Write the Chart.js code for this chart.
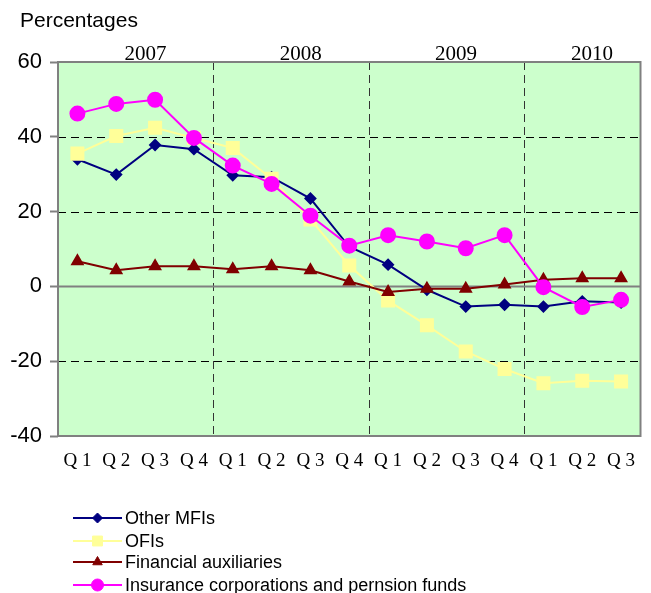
<!DOCTYPE html>
<html>
<head>
<meta charset="utf-8">
<script src="https://cdn.jsdelivr.net/npm/chart.js@4.4.1/dist/chart.umd.min.js"></script>
<style>
  html, body { margin:0; padding:0; background:#fff; }
  #wrap { width:651px; height:593px; position:relative; }
</style>
</head>
<body>
<div id="wrap"><canvas id="canvasG1" width="651" height="593"></canvas></div>
<script>
// 데이터
var quarters = ['Q 1','Q 2','Q 3','Q 4','Q 1','Q 2','Q 3','Q 4','Q 1','Q 2','Q 3','Q 4','Q 1','Q 2','Q 3'];
var years = ['2007','2008','2009','2010'];
var yearFirst = [0, 4, 8, 12];
var yearLast = [3, 7, 11, 14];

var otherMFIs = [34.0, 29.9, 37.8, 36.7, 29.7, 29.2, 23.5, 10.6, 5.8, -0.9, -5.4, -4.9, -5.4, -4.0, -4.3];
var ofis = [35.5, 40.2, 42.4, 39.7, 37.0, 28.8, 17.9, 5.6, -3.8, -10.4, -17.4, -22.1, -25.9, -25.2, -25.4];
var finAux = [6.7, 4.3, 5.4, 5.4, 4.6, 5.4, 4.3, 1.3, -1.5, -0.6, -0.6, 0.5, 1.8, 2.2, 2.2];
var insurance = [46.2, 48.8, 49.9, 39.7, 32.3, 27.4, 18.9, 10.9, 13.7, 12.0, 10.2, 13.7, -0.2, -5.5, -3.6];

var yTicks = [60, 40, 20, 0, -20, -40];

//배경, 그리드, 연도 라벨 플러그인
var bgPlugin = {
  id: 'bgPlugin',
  beforeDatasetsDraw: function(chart){
    var ctx = chart.ctx, a = chart.chartArea;
    var xs = chart.scales.x, ys = chart.scales.y;
    ctx.save();
    ctx.fillStyle = '#CCFFCC';
    ctx.fillRect(a.left, a.top, a.right - a.left, a.bottom - a.top);

    // 가로 점선
    ctx.strokeStyle = '#000000';
    ctx.lineWidth = 1;
    ctx.setLineDash([8, 5]);
    yTicks.forEach(function(v){
      if(v === 0 || v === 60 || v === -40) return;
      var y = Math.round(ys.getPixelForValue(v)) + 0.5;
      ctx.beginPath(); ctx.moveTo(a.left, y); ctx.lineTo(a.right, y); ctx.stroke();
    });
    // 세로 점선 (연도 구분)
    ctx.strokeStyle = '#333333';
    for(var i = 0; i < yearLast.length - 1; i++){
      var x = Math.round(xs.getPixelForValue(yearLast[i] + 0.5)) + 0.5;
      ctx.beginPath(); ctx.moveTo(x, a.top); ctx.lineTo(x, a.bottom); ctx.stroke();
    }
    ctx.setLineDash([]);
    // 0 라인
    ctx.strokeStyle = '#808080';
    ctx.lineWidth = 2;
    var y0 = ys.getPixelForValue(0);
    ctx.beginPath(); ctx.moveTo(a.left, y0); ctx.lineTo(a.right, y0); ctx.stroke();
    // 테두리
    ctx.lineWidth = 2;
    ctx.strokeRect(a.left, a.top, a.right - a.left, a.bottom - a.top);
    ctx.restore();
  },
  afterDraw: function(chart){
    var ctx = chart.ctx, a = chart.chartArea, xs = chart.scales.x;
    ctx.save();
    ctx.fillStyle = '#000';
    ctx.font = '21px "Liberation Serif", "Times New Roman", serif';
    ctx.textAlign = 'center';
    ctx.textBaseline = 'alphabetic';
    for(var i = 0; i < years.length; i++){
      var c = (yearFirst[i] + yearLast[i]) / 2 + 0.25;
      ctx.fillText(years[i], xs.getPixelForValue(c), a.top - 2);
    }
    // 타이틀
    ctx.textAlign = 'left';
    ctx.font = '21px "Liberation Sans", Arial, sans-serif';
    ctx.fillText('Percentages', 20, 27);

    // 범례
    var lx = 73, ly = [518, 541, 562, 585];
    chart.data.datasets.forEach(function(ds, k){
      var y = ly[k];
      ctx.strokeStyle = ds.borderColor;
      ctx.lineWidth = 2;
      ctx.beginPath(); ctx.moveTo(lx, y); ctx.lineTo(lx + 49, y); ctx.stroke();
      ctx.fillStyle = ds.pointBackgroundColor;
      ctx.strokeStyle = ds.pointBorderColor;
      ctx.lineWidth = 1;
      Chart.helpers.drawPoint(ctx, {pointStyle: ds.pointStyle, rotation: 0, borderWidth: 1, radius: ds.legendRadius}, lx + 24.5, y);
      ctx.fillStyle = '#000';
      ctx.font = '18px "Liberation Sans", Arial, sans-serif';
      ctx.textBaseline = 'middle';
      ctx.fillText(ds.label, lx + 52, y + 1);
    });
    ctx.restore();
  }
};

function G1_INIT(){
  var ctx = document.getElementById('canvasG1').getContext('2d');
  window.myLineG1 = new Chart(ctx, {
    type: 'line',
    data: {
      labels: quarters,
      datasets: [
        { label: 'Other MFIs', data: otherMFIs, borderColor: '#000080', backgroundColor: '#000080',
          pointBackgroundColor: '#000080', pointBorderColor: '#000080', pointStyle: 'rectRot',
          pointRadius: 5, borderWidth: 2, order: 3, legendRadius: 5 },
        { label: 'OFIs', data: ofis, borderColor: '#FFFF99', backgroundColor: '#FFFF99',
          pointBackgroundColor: '#FFFF99', pointBorderColor: '#FFFF99', pointStyle: 'rect',
          pointRadius: 8.5, borderWidth: 2, order: 2, legendRadius: 7 },
        { label: 'Financial auxiliaries', data: finAux, borderColor: '#800000', backgroundColor: '#800000',
          pointBackgroundColor: '#800000', pointBorderColor: '#800000', pointStyle: 'triangle',
          pointRadius: 6, borderWidth: 2, order: 1, legendRadius: 5.5 },
        { label: 'Insurance corporations and pernsion funds', data: insurance, borderColor: '#FF00FF', backgroundColor: '#FF00FF',
          pointBackgroundColor: '#FF00FF', pointBorderColor: '#FF00FF', pointStyle: 'circle',
          pointRadius: 7, borderWidth: 2, order: 0, legendRadius: 6 }
      ]
    },
    options: {
      responsive: false,
      animation: false,
      layout: { padding: { top: 62, right: 10, bottom: 117, left: 0 } },
      plugins: { legend: { display: false }, tooltip: { enabled: false } },
      elements: { line: { tension: 0 } },
      scales: {
        x: {
          offset: true,
          grid: { display: false, drawTicks: false },
          border: { display: false },
          ticks: { color: '#000', padding: 14, maxRotation: 0, autoSkip: false,
                   font: { family: '"Liberation Serif", "Times New Roman", serif', size: 19 } },
          afterFit: function(s){ s.height = 40; }
        },
        y: {
          min: -40, max: 60,
          ticks: { stepSize: 20, color: '#000', padding: 8,
                   font: { family: '"Liberation Sans", Arial, sans-serif', size: 22 } },
          grid: { drawOnChartArea: false, tickLength: 8, tickColor: '#808080', tickWidth: 2, color: '#808080' },
          border: { display: false },
          afterFit: function(s){ s.width = 58; }
        }
      }
    },
    plugins: [bgPlugin]
  });
}
G1_INIT();
</script>
</body>
</html>
